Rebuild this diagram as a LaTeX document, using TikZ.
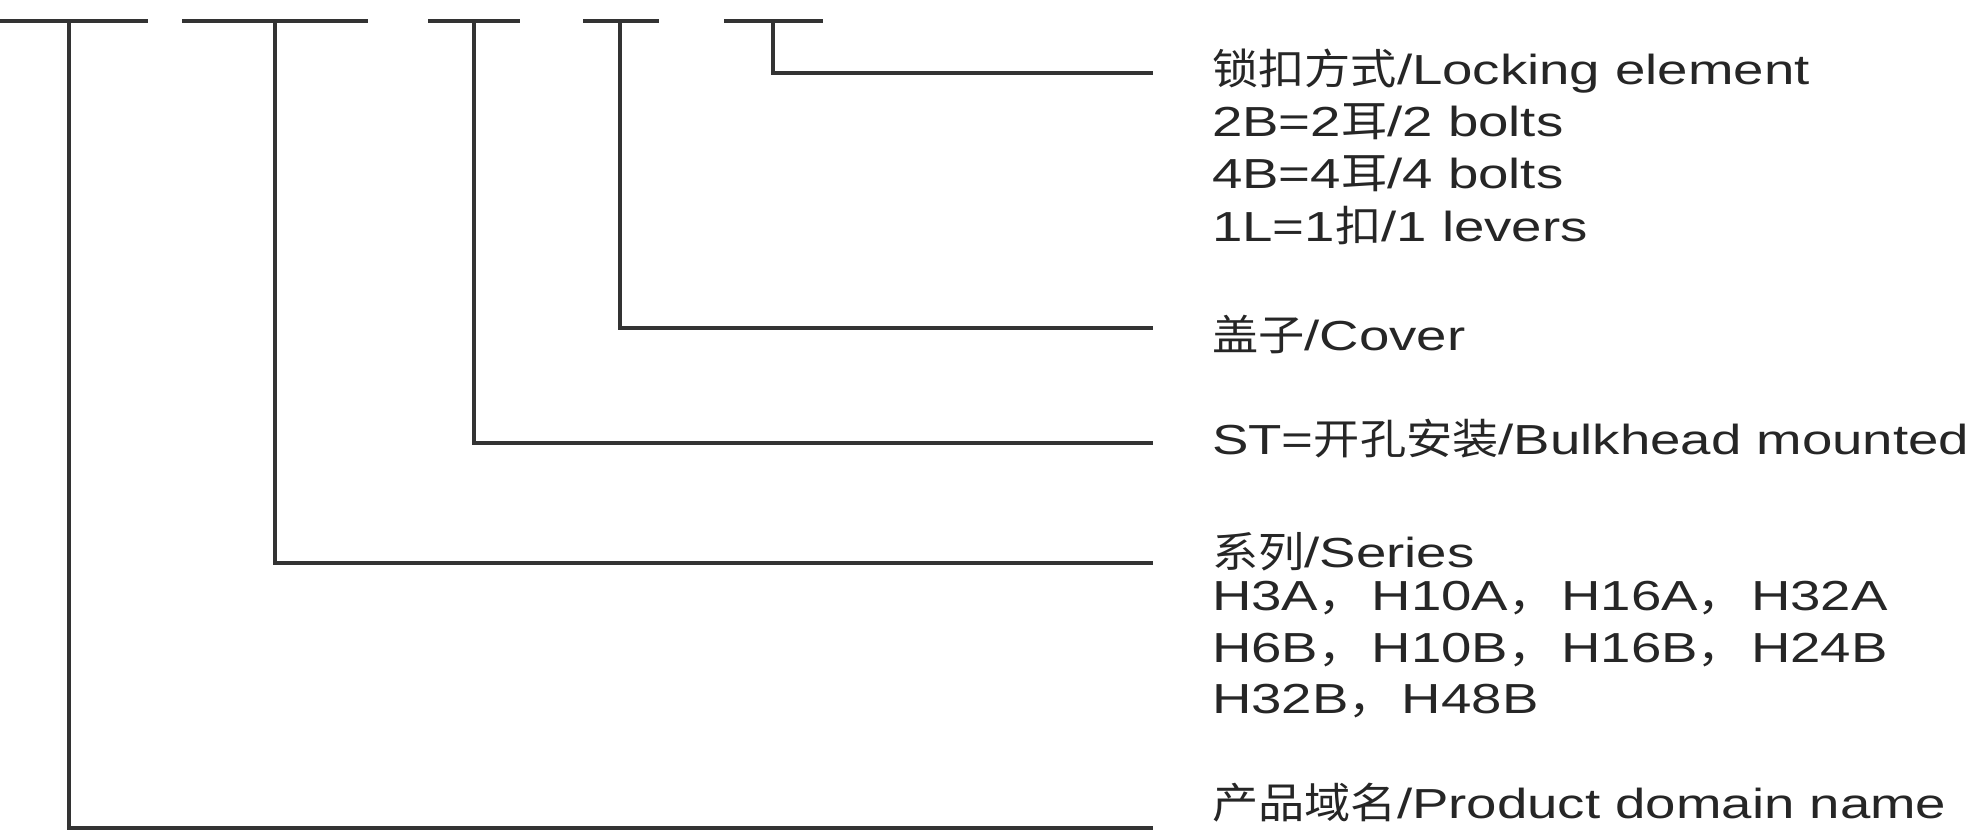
\documentclass[tikz,border=0pt]{standalone}
\usepackage{fontspec}
\setmainfont{Liberation Sans}[FakeStretch=1.3]
\newfontfamily\zhfont{Noto Sans CJK SC}[FakeStretch=1.1]
\newcommand{\zh}[1]{{\zhfont #1}}
\newcommand{\zhc}{{\zhfont ，}\hspace{7pt}}
\usetikzlibrary{positioning}

\tikzset{
    bar/.style={line width=4.5pt, draw=black!80},
    lead/.style={line width=3.5pt, draw=black!80},
    desc/.style={anchor=base west, inner sep=0pt, text=black!85,
                 font=\fontsize{42}{52}\selectfont},
}

\begin{document}
\begin{tikzpicture}[x=1pt, y=-1pt]
    \useasboundingbox (0,0) rectangle (1973,832);

    % code bars
    \foreach \a/\b in {0/148, 182/368, 428/520, 583/659, 724/823}
        \draw[bar] (\a,21) -- (\b,21);
    \coordinate (s1) at (69,21);
    \coordinate (s2) at (275,21);
    \coordinate (s3) at (474,21);
    \coordinate (s4) at (620,21);
    \coordinate (s5) at (773,21);

    % texts
    \node[desc] (lock) at (1212,85) {\zh{锁扣方式}/Locking element};
    \node[desc, below=52pt of lock.base west, anchor=base west] (bolt2) {2B=2\zh{耳}/2 bolts};
    \node[desc, below=52pt of bolt2.base west, anchor=base west] (bolt4) {4B=4\zh{耳}/4 bolts};
    \node[desc, below=52pt of bolt4.base west, anchor=base west] (lever1) {1L=1\zh{扣}/1 levers};
    \node[desc] (cover) at (1212,350) {\zh{盖子}/Cover};
    \node[desc] (mount) at (1212,454) {ST=\zh{开孔安装}/Bulkhead mounted};
    \node[desc] (series) at (1212,567) {\zh{系列}/Series};
    \node[desc, below=43pt of series.base west, anchor=base west] (ser1) {H3A\zhc H10A\zhc H16A\zhc H32A};
    \node[desc, below=52pt of ser1.base west, anchor=base west] (ser2) {H6B\zhc H10B\zhc H16B\zhc H24B};
    \node[desc, below=51pt of ser2.base west, anchor=base west] (ser3) {H32B\zhc H48B};
    \node[desc] (domain) at (1212,818) {\zh{产品域名}/Product domain name};

    % leader ends
    \coordinate (e5) at (1153,73);
    \coordinate (e4) at (1153,328);
    \coordinate (e3) at (1153,443);
    \coordinate (e2) at (1153,563);
    \coordinate (e1) at (1153,828);

    \draw[lead] (s5) |- (e5);
    \draw[lead] (s4) |- (e4);
    \draw[lead] (s3) |- (e3);
    \draw[lead] (s2) |- (e2);
    \draw[lead] (s1) |- (e1);
\end{tikzpicture}
\end{document}
